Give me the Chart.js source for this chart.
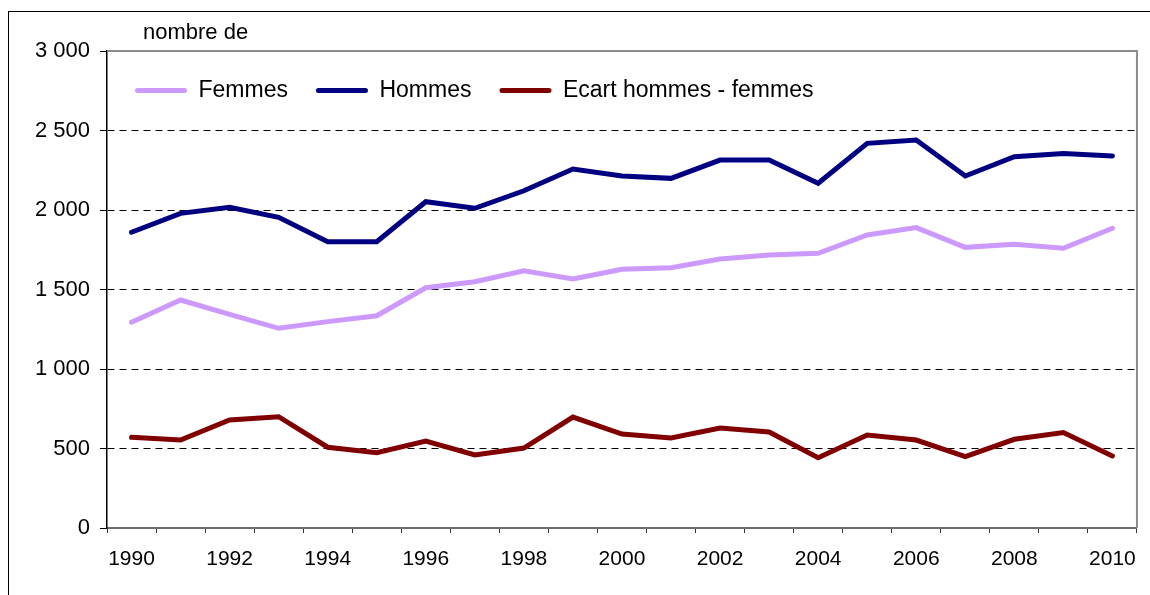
<!DOCTYPE html>
<html>
<head>
<meta charset="utf-8">
<script src="https://cdn.jsdelivr.net/npm/chart.js@4"></script>
<style>
    body { margin: 0; background: #fff; }
    .wrap { position: relative; width: 1150px; height: 595px; overflow: hidden; }
    .cadre { position: absolute; left: 8px; top: 11px; width: 1300px; height: 700px;
             border-left: 1px solid #000; border-top: 1px solid #000; }
    canvas { position: absolute; left: 0; top: 0; }
</style>
</head>
<body>
<div class="wrap">
    <div class="cadre"></div>
    <canvas id="myChart" width="1150" height="595"></canvas>
</div>
<script>
const annees = ['1990', '1991', '1992', '1993', '1994', '1995', '1996', '1997', '1998', '1999', '2000',
    '2001', '2002', '2003', '2004', '2005', '2006', '2007', '2008', '2009', '2010'];

const femmes = [1294, 1434, 1344, 1256, 1298, 1335, 1511, 1549, 1618, 1566, 1627,
    1637, 1692, 1717, 1728, 1843, 1889, 1765, 1784, 1759, 1885];

const hommes = [1860, 1979, 2017, 1954, 1801, 1801, 2052, 2011, 2121, 2258, 2214,
    2199, 2314, 2314, 2168, 2419, 2440, 2214, 2335, 2356, 2340];

const ecart = [570, 553, 679, 700, 508, 474, 547, 459, 503, 698, 591,
    566, 629, 604, 442, 585, 553, 449, 558, 600, 453];

const yTicks = [0, 500, 1000, 1500, 2000, 2500, 3000];

const police = '"Liberation Sans", Arial, sans-serif';

// espace comme séparateur de milliers
function formatNombre(v) {
    return String(v).replace(/\B(?=(\d{3})+(?!\d))/g, ' ');
}

// légende horizontale dans la zone du graphique
const legendePlugin = {
    id: 'legendeDansZone',
    beforeLayout(chart) {
        if (chart.legend) chart.legend.isHorizontal = () => true;
    },
    afterLayout(chart) {
        const lg = chart.legend;
        if (!lg) return;
        lg.left = chart.chartArea.left;
        lg.right = chart.chartArea.right;
        lg.top = chart.chartArea.top;
        lg.bottom = chart.chartArea.bottom;
    }
};

// bord gris haut / droite du cadre + libellé "nombre de"
const cadrePlugin = {
    id: 'cadre',
    afterDraw(chart) {
        const { ctx, chartArea } = chart;
        ctx.save();
        ctx.strokeStyle = '#8c8c8c';
        ctx.lineWidth = 2;
        ctx.beginPath();
        ctx.moveTo(chartArea.left, chartArea.top);
        ctx.lineTo(chartArea.right, chartArea.top);
        ctx.lineTo(chartArea.right, chartArea.bottom);
        ctx.stroke();
        ctx.fillStyle = '#000';
        ctx.font = '22px ' + police;
        ctx.textBaseline = 'alphabetic';
        ctx.fillText('nombre de', chartArea.left + 36, chartArea.top - 12);
        ctx.restore();
    }
};

const ctx = document.getElementById('myChart');

new Chart(ctx, {
    type: 'line',
    data: {
        labels: annees,
        datasets: [
            { label: 'Femmes', data: femmes, borderColor: '#cc99ff', backgroundColor: '#cc99ff' },
            { label: 'Hommes', data: hommes, borderColor: '#000080', backgroundColor: '#000080' },
            { label: 'Ecart hommes - femmes', data: ecart, borderColor: '#800000', backgroundColor: '#800000' }
        ]
    },
    options: {
        responsive: false,
        animation: false,
        devicePixelRatio: 1,
        layout: { padding: { top: 51, right: 9, left: 0, bottom: 0 } },
        elements: {
            line: { borderWidth: 5, tension: 0, borderCapStyle: 'round' },
            point: { radius: 0 }
        },
        plugins: {
            tooltip: { enabled: false },
            legend: {
                position: 'chartArea',
                align: 'start',
                labels: {
                    color: '#000',
                    font: { family: police, size: 23 },
                    boxWidth: 52,
                    boxHeight: 5,
                    padding: 28,
                    useBorderRadius: true,
                    borderRadius: 2.5,
                    generateLabels: chart => Chart.defaults.plugins.legend.labels.generateLabels(chart)
                        .map(l => ({ ...l, lineWidth: 0, fillStyle: l.strokeStyle }))
                }
            }
        },
        scales: {
            x: {
                offset: true,
                afterFit: scale => { scale.height = 67; },
                grid: {
                    offset: true,
                    drawOnChartArea: false,
                    drawTicks: true,
                    tickLength: 5,
                    tickColor: '#333'
                },
                border: { color: '#6e6e6e', width: 2 },
                ticks: {
                    autoSkip: false,
                    maxRotation: 0,
                    padding: 14,
                    color: '#000',
                    font: { family: police, size: 21 },
                    callback: (v, i) => i % 2 === 0 ? annees[i] : ''
                }
            },
            y: {
                min: 0,
                max: 3000,
                afterFit: scale => { scale.width = 107; },
                afterBuildTicks: scale => { scale.ticks = yTicks.map(v => ({ value: v })); },
                grid: {
                    color: c => (c.tick && (c.tick.value === 0 || c.tick.value === 3000)) ? 'rgba(0,0,0,0)' : '#000',
                    lineWidth: 1,
                    tickLength: 7,
                    tickColor: '#000'
                },
                border: { color: '#000', width: 1.5, dash: [7, 5] },
                ticks: {
                    padding: 10,
                    color: '#000',
                    font: { family: police, size: 22 },
                    callback: v => formatNombre(v)
                }
            }
        }
    },
    plugins: [legendePlugin, cadrePlugin]
});
</script>
</body>
</html>
